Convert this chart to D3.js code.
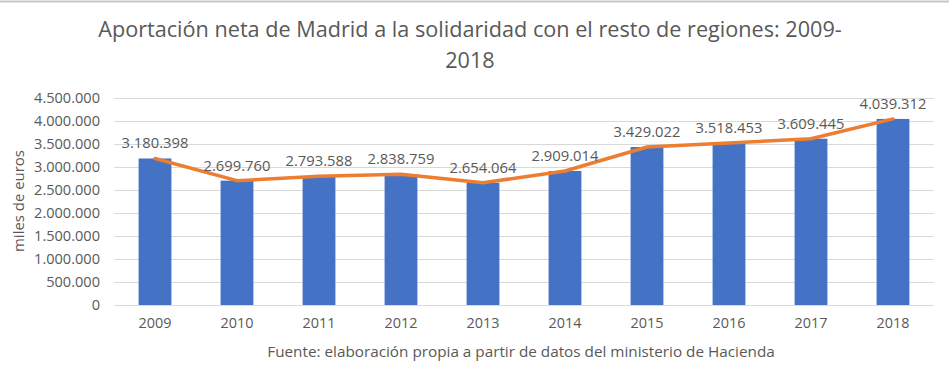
<!DOCTYPE html>
<html>
<head>
<meta charset="utf-8">
<script src="https://cdn.jsdelivr.net/npm/d3@7"></script>
<style>
  html, body { margin: 0; padding: 0; background: #fff; }
  svg { display: block; }
  text { font-family: "Open Sans", Lato, sans-serif; fill: #595959; }
</style>
</head>
<body>
<svg id="chart" width="949" height="369"></svg>
<script>
const years = ["2009","2010","2011","2012","2013","2014","2015","2016","2017","2018"];
const values = [3180398, 2699760, 2793588, 2838759, 2654064, 2909014, 3429022, 3518453, 3609445, 4039312];
const yTicks = [0, 500000, 1000000, 1500000, 2000000, 2500000, 3000000, 3500000, 4000000, 4500000];
const titleLines = ["Aportación neta de Madrid a la solidaridad con el resto de regiones: 2009-", "2018"];
const yAxisTitle = "miles de euros";
const sourceText = "Fuente: elaboración propia a partir de datos del ministerio de Hacienda";

const fmt = v => d3.format(",")(v).replace(/,/g, ".");
const FONT = '"Open Sans", Lato, sans-serif';

const svg = d3.select("#chart");
const W = 949, H = 369;

// fit a text element's font size so its width matches a target width
function fit(sel, target, base) {
  const node = sel.node();
  sel.attr("font-size", base);
  const w = node.getComputedTextLength();
  if (w > 0) sel.attr("font-size", base * target / w);
}

svg.append("line").attr("x1", 0).attr("x2", W).attr("y1", 1.5).attr("y2", 1.5)
  .attr("stroke", "#c8c8c8").attr("stroke-width", 2);

const x = d3.scaleBand().domain(years).range([114, 934]).paddingInner(0.6).paddingOuter(0.3);
const y = d3.scaleLinear().domain([0, 4500000]).range([305, 97.7]);

svg.append("g").selectAll("line").data(yTicks).join("line")
  .attr("x1", 114).attr("x2", 934)
  .attr("y1", d => Math.round(y(d)) + 0.5).attr("y2", d => Math.round(y(d)) + 0.5)
  .attr("stroke", "#d9d9d9").attr("stroke-width", 1);

const yAxis = d3.axisLeft(y).tickValues(yTicks).tickFormat(fmt).tickSize(0).tickPadding(0);
const gy = svg.append("g").attr("transform", "translate(100,0)").call(yAxis);
gy.select(".domain").remove();
gy.selectAll("text").attr("fill", "#595959").style("font-family", FONT);
// size from widest label
{
  const t = gy.selectAll("text").filter(d => d === 4500000);
  t.attr("font-size", 14);
  const w = t.node().getComputedTextLength();
  gy.selectAll("text").attr("font-size", 14 * 66 / w);
}

const xAxis = d3.axisBottom(x).tickSize(0).tickPadding(0);
const gx = svg.append("g").attr("transform", "translate(0,318)").call(xAxis);
gx.select(".domain").remove();
gx.selectAll("text").attr("fill", "#595959").style("font-family", FONT);
{
  const t = gx.select("text");
  t.attr("font-size", 14);
  const w = t.node().getComputedTextLength();
  gx.selectAll("text").attr("font-size", 14 * 33 / w);
}

svg.append("g").selectAll("rect").data(values).join("rect")
  .attr("x", (d, i) => x(years[i]))
  .attr("width", x.bandwidth())
  .attr("y", d => y(d))
  .attr("height", d => y(0) - y(d))
  .attr("fill", "#4472c4");

const line = d3.line().x((d, i) => x(years[i]) + x.bandwidth() / 2).y(d => y(d));
svg.append("path").datum(values).attr("d", line)
  .attr("fill", "none").attr("stroke", "#ed7d31").attr("stroke-width", 3.5)
  .attr("stroke-linejoin", "round").attr("stroke-linecap", "round");

const labels = svg.append("g").selectAll("text").data(values).join("text")
  .attr("x", (d, i) => x(years[i]) + x.bandwidth() / 2)
  .attr("y", d => y(d) - 10)
  .attr("text-anchor", "middle")
  .text(d => fmt(d));
{
  const t = labels.filter((d, i) => i === 0);
  t.attr("font-size", 14);
  const w = t.node().getComputedTextLength();
  labels.attr("font-size", 14 * 67 / w);
}

const titles = svg.append("g").selectAll("text").data(titleLines).join("text")
  .attr("x", 470).attr("y", (d, i) => 37 + i * 31)
  .attr("text-anchor", "middle")
  .text(d => d);
{
  const t = titles.filter((d, i) => i === 0);
  t.attr("font-size", 20);
  const w = t.node().getComputedTextLength();
  titles.attr("font-size", 20 * 744 / w);
}

const yt = svg.append("text").attr("transform", "translate(24,201) rotate(-90)")
  .attr("text-anchor", "middle").text(yAxisTitle);
fit(yt, 102, 14);

const src = svg.append("text").attr("x", 521).attr("y", 357).attr("text-anchor", "middle")
  .text(sourceText);
fit(src, 508, 14);
</script>
</body>
</html>
